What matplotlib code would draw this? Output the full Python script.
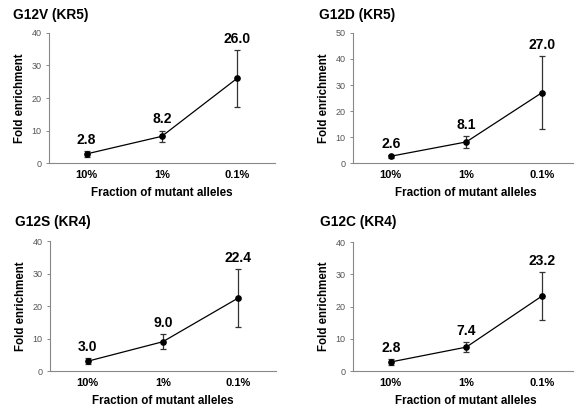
import matplotlib
matplotlib.use("Agg")
import matplotlib.pyplot as plt
import numpy as np

plt.rcParams['font.family'] = ['Liberation Sans', 'DejaVu Sans']

categories = ["10%", "1%", "0.1%"]

titles = ["G12V (KR5)", "G12D (KR5)", "G12S (KR4)", "G12C (KR4)"]
g12v = [2.8, 8.2, 26.0]
g12v_err = [0.8, 1.8, 8.7]
g12d = [2.6, 8.1, 27.0]
g12d_err = [0.5, 2.2, 14.0]
g12s = [3.0, 9.0, 22.4]
g12s_err = [0.9, 2.3, 8.9]
g12c = [2.8, 7.4, 23.2]
g12c_err = [1.0, 1.6, 7.4]
ymax = [40, 50, 40, 40]

W, H = 574, 411
fig = plt.figure(figsize=(W / 100, H / 100), dpi=100)

# axes boxes in pixels: left, right, top, bottom
boxes = [(49, 274.5, 33, 163), (353, 579.5, 33, 163),
         (50, 275.5, 241, 371), (353, 579.5, 242, 371)]
title_pos = [(13, 15), (319, 15), (15, 222), (320, 222)]
series = [(g12v, g12v_err), (g12d, g12d_err), (g12s, g12s_err), (g12c, g12c_err)]

x = np.arange(1, len(categories) + 1)
for i in range(4):
    l, r, t, b = boxes[i]
    ax = fig.add_axes([l / W, 1 - b / H, (r - l) / W, (b - t) / H])
    vals, err = series[i]
    # error bars (grey) then the black line with markers
    ax.errorbar(x, vals, yerr=err, fmt="none", ecolor="#333333", elinewidth=0.9,
                capsize=2, capthick=0.9)
    ax.plot(x, vals, color="black", lw=0.9, marker="o", ms=3.8)
    for xi, v, e in zip(x, vals, err):
        ax.annotate("%.1f" % v, xy=(xi, v + e), xytext=(0, 3), textcoords="offset points",
                    ha="center", va="bottom", fontsize=10, fontweight="bold")
    ax.set_xlim(0.5, 3.5)
    ax.set_ylim(0, ymax[i])
    ax.set_yticks(np.arange(0, ymax[i] + 1, 10))
    ax.set_xticks(x)
    ax.set_xticklabels(categories, fontsize=8, fontweight="bold")
    ax.tick_params(axis="x", length=0, pad=5)
    ax.tick_params(axis="y", length=2.5, width=0.7, color="#888888", labelsize=6.5,
                   labelcolor="#555555", pad=3)
    for s in ["top", "right"]:
        ax.spines[s].set_visible(False)
    for s in ["left", "bottom"]:
        ax.spines[s].set_color("#888888")
        ax.spines[s].set_linewidth(0.8)
    ax.set_ylabel("Fold enrichment", fontsize=8.3, fontweight="bold", labelpad=4)
    ax.set_xlabel("Fraction of mutant alleles", fontsize=8.4, fontweight="bold", labelpad=5)
    tx, ty = title_pos[i]
    fig.text(tx / W, 1 - ty / H, titles[i], fontsize=9.9, fontweight="bold",
             ha="left", va="center")

fig.savefig("out.png", dpi=100)
